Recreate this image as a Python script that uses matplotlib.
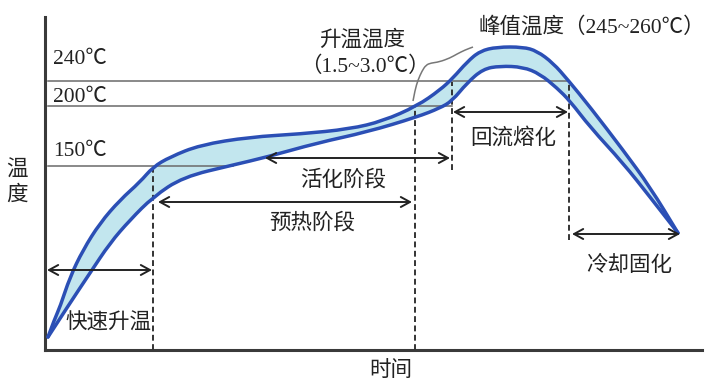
import matplotlib
matplotlib.use("Agg")
import matplotlib.pyplot as plt
from matplotlib.path import Path
from matplotlib.patches import PathPatch

# ---- data (schematic time units, schematic temperature-height units) ----
upper_t = [3, 10, 15, 25, 38, 55, 75, 95, 108, 125, 155, 205, 255, 305, 338, 372,
           395, 408, 422, 435, 452, 478, 492, 508, 523, 545, 578, 605, 633]
upper_h = [13, 32, 43, 73, 100, 127, 150, 168, 183, 193, 205, 213, 216, 221, 229, 244,
           260, 272, 288, 299, 303, 303, 299, 287, 270, 243, 200, 163, 117]
lower_t = [3, 25, 45, 65, 85, 108, 138, 188, 222, 272, 322, 372, 395, 407, 422, 438,
           455, 478, 495, 512, 525, 545, 578, 605, 633]
lower_h = [13, 47, 77, 107, 130, 153, 173, 185, 193, 207, 218, 233, 242, 249, 267, 281,
           284, 283, 276, 262, 249, 223, 187, 153, 117]

level_labels = ["240\u2103", "200\u2103", "150\u2103"]
level_h = [269, 244, 184]
level_end_t = [523, 407, 188]

phase_names = ["快速升温", "预热阶段", "活化阶段", "回流熔化", "冷却固化"]
phase_start = [2, 113, 220, 408, 527]
phase_end = [107, 367, 405, 523, 635]
phase_arrow_h = [80, 148, 192, 238, 116]
phase_text_t = [63, 267, 298, 468, 584]
phase_text_h = [27, 127, 170, 212, 85]

mark_t = [108, 370, 407, 524]
mark_top = [184, 245, 268, 268]
mark_bottom = [0, 0, 180, 110]

brace_t = [368, 370, 373, 377, 381, 386, 394, 405, 412, 420, 428]
brace_h = [249, 260, 270, 279, 285, 287, 288, 292, 296, 300, 303]


def smooth_path(t, h, first_code=Path.MOVETO):
    pts = list(zip(t, h))
    verts = [pts[0]]
    codes = [first_code]
    for i in range(1, len(pts) - 1):
        mid = ((pts[i][0] + pts[i + 1][0]) / 2, (pts[i][1] + pts[i + 1][1]) / 2)
        verts += [pts[i], mid]
        codes += [Path.CURVE3, Path.CURVE3]
    verts.append(pts[-1])
    codes.append(Path.LINETO)
    return verts, codes


# ---- figure ----
W, H = 715, 383
fig = plt.figure(figsize=(W / 100, H / 100), dpi=100)
ax = fig.add_axes([45 / W, (H - 350) / H, (702 - 45) / W, 333 / H])
ax.set_xlim(0, 657)
ax.set_ylim(0, 333)
ax.set_xticks([])
ax.set_yticks([])
for s in ["top", "right"]:
    ax.spines[s].set_visible(False)
for s in ["left", "bottom"]:
    ax.spines[s].set_linewidth(2.2)
    ax.spines[s].set_color("#3a3a3a")

cjk = ["Noto Sans CJK SC", "DejaVu Sans"]
num = ["Liberation Serif", "Noto Sans CJK SC", "DejaVu Sans"]
fs = 15.5
tc = "#222222"
curve_c = "#2b4fb5"

# band fill between curves
uv, uc = smooth_path(upper_t, upper_h)
lv, lc = smooth_path(lower_t[::-1], lower_h[::-1], first_code=Path.LINETO)
band = Path(uv + lv + [uv[0]], uc + lc + [Path.CLOSEPOLY])
ax.add_patch(PathPatch(band, facecolor="#c2e6ee", edgecolor="none", zorder=1))

# level lines
label_y = [290, 253, 198]
for lab, h, te, ly in zip(level_labels, level_h, level_end_t, label_y):
    ax.plot([3, te], [h, h], color="#6a6a6a", lw=1.1, zorder=2)
    ax.text(8, ly, lab, fontsize=fs, family=num, color=tc, ha="left", va="center")

# curves
for t, h in [(upper_t, upper_h), (lower_t, lower_h)]:
    v, c = smooth_path(t, h)
    ax.add_patch(PathPatch(Path(v, c), facecolor="none", edgecolor=curve_c,
                           lw=2.5, zorder=4, capstyle="round"))

# dashed markers
for t, top, bot in zip(mark_t, mark_top, mark_bottom):
    ax.plot([t, t], [bot, top], color="#333333", lw=1.4, ls=(0, (3, 1.8)), zorder=3)

# phase arrows and labels
for name, a, b, ha_, tt, th in zip(phase_names, phase_start, phase_end,
                                   phase_arrow_h, phase_text_t, phase_text_h):
    ax.annotate("", xy=(b, ha_), xytext=(a, ha_),
                arrowprops=dict(arrowstyle="<->,head_length=0.55,head_width=0.3",
                                color="#222222", lw=1.4, shrinkA=0, shrinkB=0,
                                mutation_scale=12), zorder=5)
    ax.text(tt, th, name, fontsize=fs, family=cjk, color=tc, ha="center", va="center")

# brace
bv, bc = smooth_path(brace_t, brace_h)
ax.add_patch(PathPatch(Path(bv, bc), facecolor="none", edgecolor="#777777",
                       lw=1.1, zorder=3))

# annotations
ax.text(317, 310, "升温温度", fontsize=fs, family=cjk, color=tc, ha="center", va="center")
ax.text(320, 283, "（1.5~3.0\u2103）", fontsize=fs, family=num, color=tc,
        ha="center", va="center")
ax.text(547, 323, "峰值温度（245~260\u2103）", fontsize=fs, family=num, color=tc,
        ha="center", va="center")

# axis labels
ax.text(346, -20, "时间", fontsize=fs, family=cjk, color=tc, ha="center", va="center",
        clip_on=False)
ax.text(-28, 180, "温", fontsize=fs, family=cjk, color=tc, ha="center", va="center",
        clip_on=False)
ax.text(-28, 155, "度", fontsize=fs, family=cjk, color=tc, ha="center", va="center",
        clip_on=False)

fig.savefig("out.png", dpi=100, facecolor="white")
